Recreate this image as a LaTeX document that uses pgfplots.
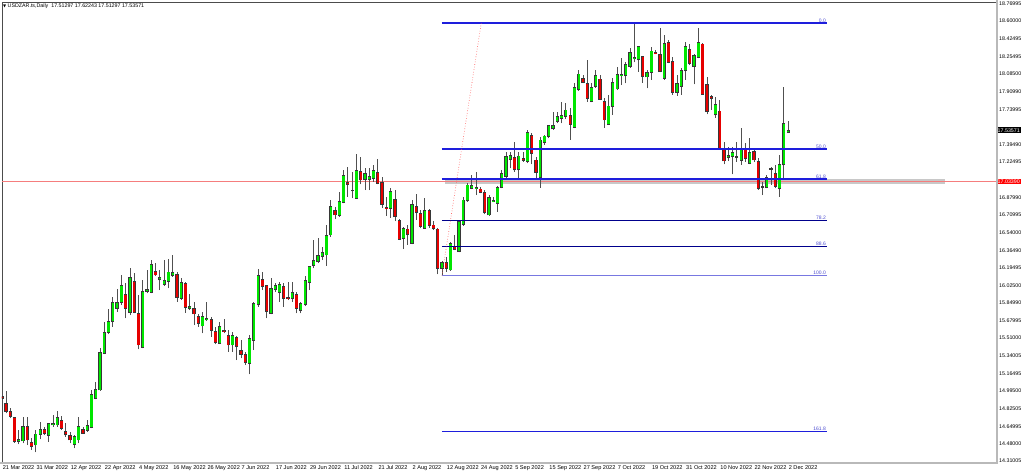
\documentclass[border=0pt]{standalone}
\usepackage{fontspec}
\setmainfont{Liberation Sans}
\newfontfamily\dejavu{DejaVu Sans}
\usepackage{pgfplots}
\usepackage{pgfplotstable}
\pgfplotsset{compat=1.18}
\definecolor{bull}{RGB}{0,230,0}
\definecolor{bear}{RGB}{230,0,0}
\definecolor{outl}{RGB}{55,55,55}
\definecolor{wick}{RGB}{80,80,80}
\definecolor{fibblue}{RGB}{30,30,220}
\definecolor{fibdark}{RGB}{0,0,140}
\definecolor{fiblight}{RGB}{120,120,225}
\definecolor{fibtext}{RGB}{80,80,210}
\definecolor{hline}{RGB}{245,125,125}
\definecolor{band}{RGB}{200,200,200}

\pgfplotstableread{
i O H L C
1.1 14.938 15.003 14.906 14.916
2 14.873 14.994 14.776 14.792
3 14.792 14.825 14.727 14.744
4 14.737 14.744 14.490 14.500
5 14.500 14.614 14.474 14.523
6 14.506 14.744 14.484 14.646
7 14.646 14.744 14.467 14.516
8 14.493 14.532 14.419 14.451
9 14.467 14.614 14.396 14.575
10 14.571 14.695 14.523 14.623
11 14.620 14.646 14.565 14.575
12 14.558 14.685 14.500 14.679
13 14.666 14.760 14.646 14.679
14 14.662 14.799 14.646 14.737
15 14.705 14.753 14.614 14.630
16 14.597 14.685 14.549 14.565
17 14.562 14.597 14.484 14.516
18 14.474 14.565 14.435 14.549
19 14.516 14.744 14.484 14.646
20 14.620 14.646 14.575 14.581
21 14.610 14.711 14.597 14.659
22 14.636 15.003 14.630 14.964
23 14.922 15.085 14.912 15.010
24 15.003 15.416 14.994 15.367
25 15.361 15.670 15.354 15.566
26 15.562 15.790 15.546 15.676
27 15.670 15.913 15.621 15.855
28 15.799 15.985 15.767 15.861
29 15.855 16.124 15.832 16.027
30 15.939 16.043 15.702 15.799
31 15.757 16.189 15.734 16.102
32 16.066 16.141 15.751 15.757
33 15.751 15.929 15.400 15.442
34 15.419 16.076 15.410 15.968
35 15.962 16.173 15.946 15.985
36 15.955 16.271 15.946 16.228
37 16.163 16.238 16.115 16.124
38 16.076 16.173 15.978 16.102
39 16.033 16.271 16.020 16.069
40 16.059 16.277 15.994 16.154
41 16.118 16.319 16.108 16.147
42 16.134 16.157 15.864 15.907
43 15.897 16.092 15.881 16.053
44 16.043 16.059 15.757 15.806
45 15.793 15.936 15.783 15.816
46 15.799 15.864 15.637 15.744
47 15.718 15.741 15.621 15.653
48 15.627 15.767 15.556 15.718
49 15.685 15.864 15.676 15.702
50 15.692 15.718 15.523 15.585
51 15.572 15.620 15.448 15.464
52 15.458 15.669 15.451 15.620
53 15.585 15.695 15.555 15.572
54 15.539 15.588 15.377 15.442
55 15.442 15.572 15.377 15.533
56 15.513 15.529 15.295 15.425
57 15.393 15.490 15.312 15.351
58 15.351 15.377 15.247 15.273
59 15.263 15.539 15.156 15.507
60 15.490 15.864 15.393 15.848
61 15.832 16.182 15.815 16.124
62 16.082 16.156 15.978 16.010
63 16.020 16.026 15.702 15.767
64 15.750 16.091 15.740 15.994
65 15.987 16.043 15.961 16.020
66 15.952 16.059 15.864 16.033
67 16.010 16.043 15.815 15.897
68 15.906 16.059 15.880 15.893
69 15.897 16.059 15.864 15.952
70 15.935 15.961 15.750 15.799
71 15.776 15.864 15.750 15.848
72 15.832 16.114 15.822 16.075
73 16.052 16.215 15.978 16.205
74 16.215 16.465 16.189 16.270
75 16.254 16.488 16.238 16.312
76 16.303 16.400 16.270 16.345
77 16.319 16.611 16.215 16.514
78 16.514 16.855 16.498 16.796
79 16.757 16.790 16.670 16.709
80 16.702 16.936 16.692 16.839
81 16.832 17.147 16.822 17.099
82 17.027 17.180 16.887 17.008
83 16.952 17.131 16.871 16.943
84 16.871 17.300 16.865 17.141
85 17.138 17.277 17.008 17.050
86 17.056 17.164 16.952 17.115
87 17.056 17.164 16.952 17.089
88 17.066 17.196 17.034 17.147
89 17.121 17.255 17.008 17.017
90 17.027 17.082 16.780 16.813
91 16.787 16.887 16.702 16.774
92 16.774 16.969 16.683 16.936
93 16.865 16.952 16.650 16.692
94 16.654 16.670 16.465 16.472
95 16.481 16.595 16.377 16.579
96 16.573 16.612 16.417 16.515
97 16.433 16.856 16.424 16.813
98 16.791 16.911 16.661 16.732
99 16.726 16.758 16.580 16.596
100 16.580 16.872 16.573 16.758
101 16.758 16.768 16.586 16.602
102 16.612 16.654 16.563 16.573
103 16.573 16.580 16.130 16.190
104 16.190 16.261 16.120 16.245
105 16.248 16.303 16.157 16.190
106 16.173 16.450 16.164 16.433
107 16.401 16.515 16.368 16.375
108 16.352 16.661 16.346 16.645
109 16.619 16.888 16.605 16.856
110 16.846 17.018 16.839 17.002
111 16.969 17.099 16.960 16.995
112 16.969 17.132 16.904 16.982
113 16.963 16.986 16.921 16.930
114 16.927 16.953 16.716 16.732
115 16.709 16.904 16.703 16.878
116 16.839 16.888 16.833 16.852
117 16.823 16.995 16.742 16.976
118 16.976 17.148 16.969 17.116
119 17.083 17.327 17.073 17.278
120 17.252 17.327 17.164 17.294
121 17.268 17.418 17.132 17.148
122 17.148 17.327 17.051 17.285
123 17.262 17.327 17.229 17.242
124 17.229 17.538 17.213 17.512
125 17.489 17.505 17.203 17.311
126 17.246 17.278 17.051 17.125
127 17.073 17.473 16.976 17.441
128 17.418 17.489 17.392 17.480
129 17.473 17.587 17.457 17.580
130 17.548 17.717 17.538 17.580
131 17.619 17.717 17.603 17.674
132 17.652 17.814 17.603 17.684
133 17.668 17.798 17.645 17.733
134 17.684 17.749 17.441 17.593
135 17.564 17.993 17.554 17.951
136 17.928 18.123 17.918 18.084
137 18.042 18.074 17.993 17.999
138 17.993 18.220 17.814 17.840
139 17.814 17.993 17.808 17.951
140 17.960 18.123 17.951 18.068
141 18.035 18.074 17.830 17.837
142 17.814 17.847 17.561 17.635
143 17.593 17.879 17.586 17.772
144 17.765 18.041 17.684 18.002
145 17.937 18.155 17.927 18.080
146 18.067 18.236 17.976 18.080
147 18.067 18.204 17.993 18.178
148 18.155 18.334 18.145 18.295
149 18.230 18.580 18.197 18.246
150 18.220 18.360 18.106 18.350
151 18.256 18.262 17.999 18.057
152 18.054 18.122 17.944 18.100
153 18.100 18.350 18.025 18.308
154 18.298 18.317 18.275 18.285
155 18.278 18.529 18.100 18.106
156 18.041 18.464 18.025 18.382
157 18.392 18.415 18.187 18.197
158 18.210 18.252 17.879 17.905
159 17.905 18.074 17.872 17.993
160 17.960 18.139 17.879 18.119
161 18.113 18.399 18.025 18.353
162 18.327 18.373 18.171 18.187
163 18.155 18.275 17.983 18.262
164 18.246 18.529 18.236 18.392
165 18.376 18.382 17.879 17.885
166 17.983 18.057 17.690 17.716
167 17.863 17.879 17.733 17.840
168 17.684 17.863 17.658 17.788
169 17.723 17.830 17.343 17.352
170 17.343 17.424 17.203 17.235
171 17.268 17.375 17.235 17.294
172 17.278 17.375 17.106 17.320
173 17.278 17.424 17.229 17.268
174 17.239 17.554 17.197 17.349
175 17.349 17.408 17.229 17.255
176 17.213 17.456 17.203 17.320
177 17.326 17.359 17.229 17.245
178 17.235 17.261 16.953 16.963
179 16.985 17.034 16.904 16.975
180 16.975 17.099 16.969 17.073
181 17.154 17.180 17.002 17.164
182 17.115 17.197 16.969 16.985
183 16.963 17.294 16.888 17.203
184 17.197 17.960 17.060 17.603
185 17.51297 17.62243 17.51297 17.53571
}\candles

\begin{document}
\begin{tikzpicture}[x=1pt,y=1pt]
\fill[white] (0,0) rectangle (1024,475);
\begin{axis}[
  at={(2pt,13pt)}, anchor=south west, scale only axis,
  width=994pt, height=460pt,
  xmin=1.07, xmax=233.64, ymin=14.3018, ymax=18.7852,
  clip mode=individual,
  axis line style={draw=gray!60!black, line width=0.5pt},
  xtick pos=bottom, ytick pos=right, yticklabel pos=right,
  tick align=outside, major tick length=2pt,
  tick style={gray!40!black, line width=0.4pt},
  xtick={1.1,9,17,25,33,41,49,57,65,73,81,89,97,105,113,121,129,137,145,153,161,169,177,185},
  xticklabels={21 Mar 2022,31 Mar 2022,12 Apr 2022,22 Apr 2022,4 May 2022,16 May 2022,26 May 2022,7 Jun 2022,17 Jun 2022,29 Jun 2022,11 Jul 2022,21 Jul 2022,2 Aug 2022,12 Aug 2022,24 Aug 2022,5 Sep 2022,15 Sep 2022,27 Sep 2022,7 Oct 2022,19 Oct 2022,31 Oct 2022,10 Nov 2022,22 Nov 2022,2 Dec 2022},
  xticklabel style={font=\fontsize{5.6}{6}\selectfont, anchor=north west, inner sep=0pt, xshift=0.5pt, yshift=-1.5pt},
  ytick={18.76995,18.60000,18.42495,18.25495,18.08500,17.90990,17.73995,17.56995,17.39490,17.22495,17.05495,16.87990,16.70995,16.54000,16.36490,16.19495,16.02500,15.84990,15.67995,15.51000,15.34005,15.16495,14.99500,14.82505,14.64995,14.48000,14.31005},
  yticklabels={18.76995,18.60000,18.42495,18.25495,18.08500,17.90990,17.73995,,17.39490,17.22495,,16.87990,16.70995,16.54000,16.36490,16.19495,16.02500,15.84990,15.67995,15.51000,15.34005,15.16495,14.99500,14.82505,14.64995,14.48000,14.31005},
  yticklabel style={font=\fontsize{5.3}{6}\selectfont, anchor=west, inner sep=0pt, xshift=1pt},
]
% grey band and horizontal red line
\addplot[color=band, line width=5pt, forget plot] coordinates {(104.8,17.034) (221.7,17.034)};
\addplot[color=hline, line width=1.6pt, forget plot] coordinates {(1.07,17.034) (233.64,17.034)};
% wicks
\addplot[draw=none, mark=none, forget plot, error bars/.cd, y dir=plus, y explicit, error mark=none,
  error bar style={draw=wick, line width=0.8pt}]
  table[x=i, y=L, y error expr=\thisrow{H}-\thisrow{L}] {\candles};
% body outline
\addplot[draw=none, mark=none, forget plot, error bars/.cd, y dir=plus, y explicit, error mark=none,
  error bar style={draw=outl, line width=3.2pt}]
  table[x=i, y expr={min(\thisrow{O},\thisrow{C})-0.004}, y error expr={abs(\thisrow{C}-\thisrow{O})+0.008}] {\candles};
% bull bodies
\addplot[draw=none, mark=none, forget plot, restrict expr to domain={\thisrow{C}-\thisrow{O}}{0.012:10},
  error bars/.cd, y dir=plus, y explicit, error mark=none,
  error bar style={draw=bull, line width=2.3pt}]
  table[x=i, y expr={min(\thisrow{O},\thisrow{C})+0.005}, y error expr={abs(\thisrow{C}-\thisrow{O})-0.010}] {\candles};
% bear bodies
\addplot[draw=none, mark=none, forget plot, restrict expr to domain={\thisrow{C}-\thisrow{O}}{-10:-0.012},
  error bars/.cd, y dir=plus, y explicit, error mark=none,
  error bar style={draw=bear, line width=2.3pt}]
  table[x=i, y expr={min(\thisrow{O},\thisrow{C})+0.005}, y error expr={abs(\thisrow{C}-\thisrow{O})-0.010}] {\candles};
% Fibonacci levels
\addplot[color=fibblue, line width=1.6pt, mark=none, forget plot] coordinates {(104,18.580) (194,18.580)};
\addplot[color=fibblue, line width=1.6pt, mark=none, forget plot] coordinates {(104,17.350) (194,17.350)};
\addplot[color=fibblue, line width=1.6pt, mark=none, forget plot] coordinates {(104,17.060) (194,17.060)};
\addplot[color=fibdark, line width=1.1pt, mark=none, forget plot] coordinates {(104,16.656) (194,16.656)};
\addplot[color=fibdark, line width=1.1pt, mark=none, forget plot] coordinates {(104,16.400) (194,16.400)};
\addplot[color=fiblight, line width=1.9pt, mark=none, forget plot] coordinates {(104,16.120) (194,16.120)};
\addplot[color=fibblue, line width=1.6pt, mark=none, forget plot] coordinates {(104,14.600) (194,14.600)};
\addplot[color=red!70, dotted, line width=0.6pt, mark=none, forget plot] coordinates {(104,16.120) (113.2,18.580)};
\foreach \lv/\tx in {18.580/0.0,17.350/50.0,17.060/61.8,16.656/78.2,16.400/88.6,16.120/100.0,14.600/161.8}{
  \edef\temp{\noexpand\node[anchor=south east, inner sep=0.6pt, text=fibtext, font=\noexpand\fontsize{5}{5}\noexpand\selectfont] at (axis cs:194,\lv) {\tx};}
  \temp
}
% price labels
\node[anchor=west, fill=red, text=white, inner sep=0.9pt, font=\fontsize{5.3}{6}\selectfont, xshift=0.6pt] at (axis cs:233.64,17.034) {17.03390};
\node[anchor=west, fill=black, text=white, inner sep=0.9pt, font=\fontsize{5.3}{6}\selectfont, xshift=0.6pt] at (axis cs:233.64,17.53571) {17.53571};
\end{axis}
\draw[gray!55, line width=2pt] (996.8,475) -- (996.8,12);
\draw[gray!55, line width=2pt] (0,12.2) -- (997.8,12.2);
\node[anchor=west, inner sep=0pt, font=\fontsize{5.3}{6}\selectfont] at (3,468.5) {{\dejavu\fontsize{4}{4}\selectfont ▼}\ USDZAR.ts,Daily\ \ 17.51297 17.62243 17.51297 17.53571};
\pgfresetboundingbox
\useasboundingbox (0,0) rectangle (1024,475);
\end{tikzpicture}
\end{document}
